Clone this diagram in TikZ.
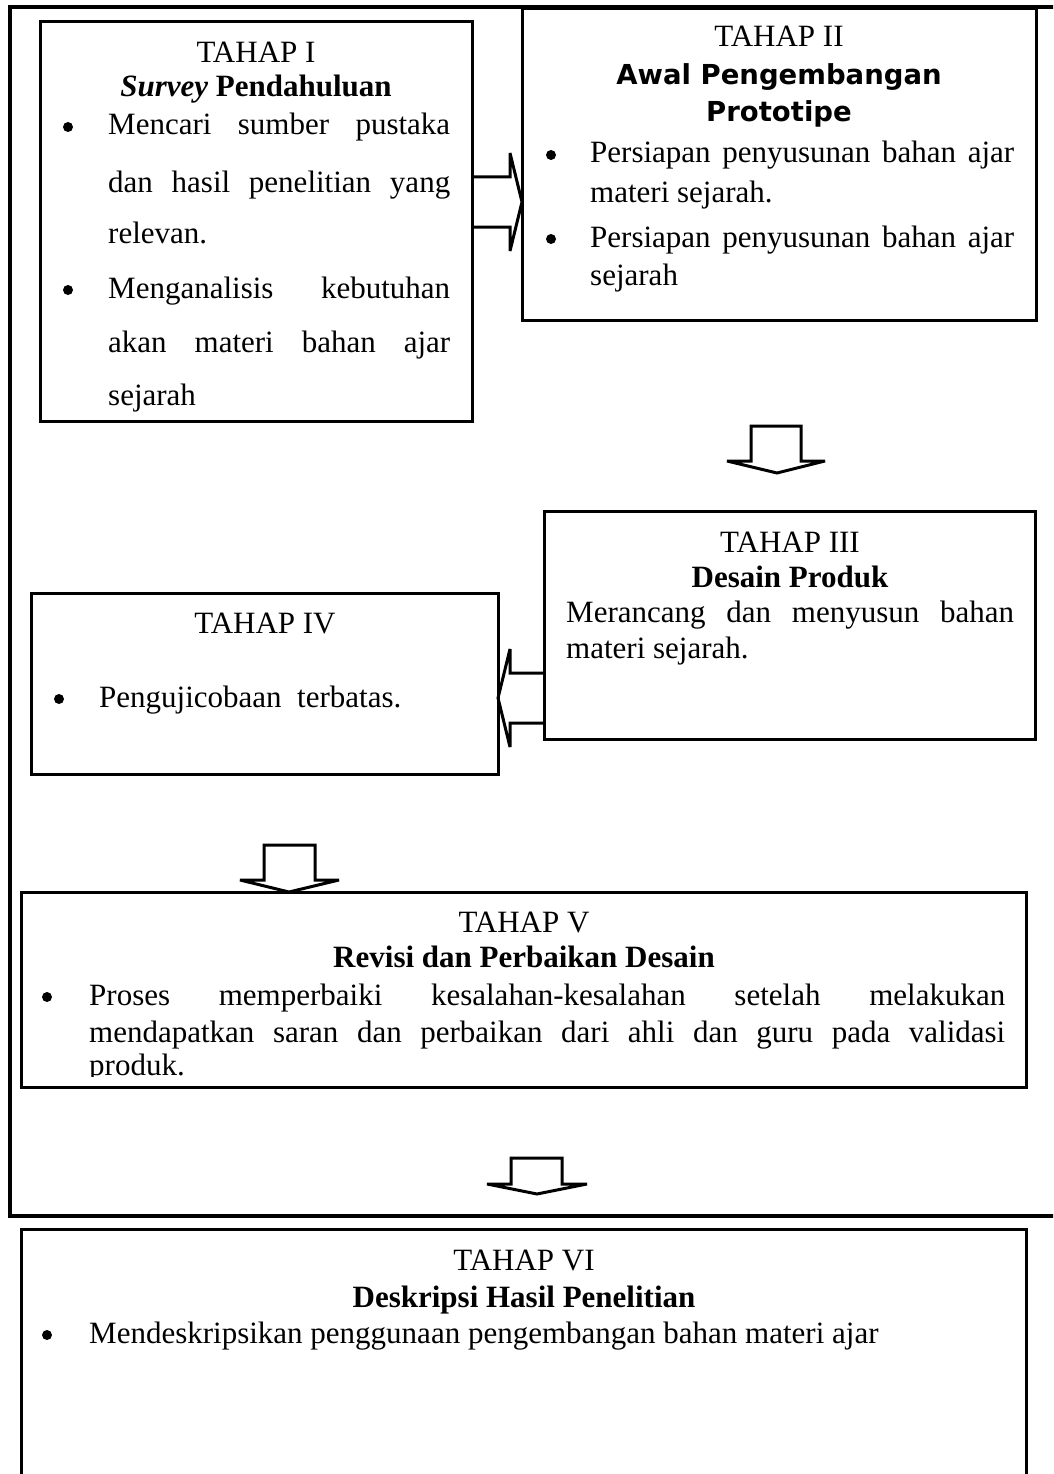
\documentclass[tikz,border=0pt]{standalone}
\usepackage{fontspec}
\setmainfont{Liberation Serif}
\newfontfamily\hsans{DejaVu Sans}
\usetikzlibrary{calc}
\newcommand\bodyfont{\fontsize{31}{37}\selectfont}
\newcommand\headsans{\hsans\bfseries\fontsize{27.5}{33}\selectfont}
\newcommand\jl[2]{\makebox[#1][s]{#2}}
\begin{document}
\begin{tikzpicture}[x=1pt,y=-1pt,
  box/.style={draw,line width=3pt,rectangle,inner sep=0pt,outer sep=0pt,anchor=north west},
  frame/.style={line width=4pt},
  blk/.style={draw,line width=3pt,line join=miter,miter limit=5},
  bul/.style={circle,fill=black,inner sep=0pt,minimum size=10pt},
  t/.style={inner sep=0pt,anchor=base,font=\bodyfont},
  tl/.style={inner sep=0pt,anchor=base west,font=\bodyfont},
  hb/.style={inner sep=0pt,anchor=base,font=\bodyfont\bfseries},
  hs/.style={inner sep=0pt,anchor=base,font=\headsans},
]
\clip (0,0) rectangle (1053,1474);
\fill[white] (0,0) rectangle (1053,1474);

% outer frame
\draw[frame] (1060,7) -- (10,7) -- (10,1216) -- (1060,1216);

% boxes
\node[box,minimum width=432pt,minimum height=399pt] (b1) at (40,22) {};
\node[box,minimum width=514pt,minimum height=311pt] (b2) at (522,9) {};
\node[box,minimum width=491pt,minimum height=228pt] (b3) at (544,511) {};
\node[box,minimum width=467pt,minimum height=181pt] (b4) at (31,593) {};
\node[box,minimum width=1005pt,minimum height=195pt] (b5) at (21,892) {};
\node[box,minimum width=1005pt,minimum height=300pt] (b6) at (21,1229) {};

% arrow I -> II
\coordinate (a1s) at (b1.east |- 0,202);
\coordinate (a1e) at (b2.west |- 0,202);
\draw[blk] ($(a1s)+(0,-25)$) -- ($(a1e)+(-12,-25)$) -- ($(a1e)+(-12,-49)$) -- (a1e)
  -- ($(a1e)+(-12,49)$) -- ($(a1e)+(-12,25)$) -- ($(a1s)+(0,25)$);

% arrow II -> III
\coordinate (d1) at (777,473);
\draw[blk] (d1) -- ++(-50,-12) -- ++(24,0) -- ++(0,-35) -- ++(50,0) -- ++(0,35) -- ++(24,0) -- cycle;

% arrow III -> IV
\coordinate (a3s) at (b3.west |- 0,698);
\coordinate (a3e) at (b4.east |- 0,698);
\draw[blk] ($(a3s)+(0,-25)$) -- ($(a3e)+(12,-25)$) -- ($(a3e)+(12,-49)$) -- (a3e)
  -- ($(a3e)+(12,49)$) -- ($(a3e)+(12,25)$) -- ($(a3s)+(0,25)$);

% arrow IV -> V
\coordinate (d2) at (b5.north -| 289,0);
\draw[blk] (d2) -- ++(-49,-12) -- ++(24,0) -- ++(0,-35) -- ++(51,0) -- ++(0,35) -- ++(24,0) -- cycle;

% arrow V -> VI
\coordinate (d3) at (537,1194);
\draw[blk] (d3) -- ++(-50,-10) -- ++(24,0) -- ++(0,-26) -- ++(51,0) -- ++(0,26) -- ++(25,0) -- cycle;

% Box I text
\node[t] (t1a) at (256,63) {TAHAP I};
\node[hb] (t1b) at (256,97) {\textit{Survey} Pendahuluan};
\node[bul] (t1c) at (68,127) {};
\node[tl] (t1d) at (108,135) {\jl{342pt}{Mencari sumber pustaka}};
\node[tl] (t1e) at (108,193) {\jl{342pt}{dan hasil penelitian yang}};
\node[tl] (t1f) at (108,243) {relevan.};
\node[bul] (t1g) at (68,290) {};
\node[tl] (t1h) at (108,298) {\jl{342pt}{Menganalisis kebutuhan}};
\node[tl] (t1i) at (108,352) {\jl{342pt}{akan materi bahan ajar}};
\node[tl] (t1j) at (108,405) {sejarah};

% Box II text
\node[t] (t2a) at (779,47) {TAHAP II};
\node[hs] (t2b) at (779,85) {Awal Pengembangan};
\node[hs] (t2c) at (779,122) {Prototipe};
\node[bul] (t2d) at (551,155) {};
\node[tl] (t2e) at (590,163) {\jl{424pt}{Persiapan penyusunan bahan ajar}};
\node[tl] (t2f) at (590,202) {materi sejarah.};
\node[bul] (t2g) at (551,239) {};
\node[tl] (t2h) at (590,247) {\jl{424pt}{Persiapan penyusunan bahan ajar}};
\node[tl] (t2i) at (590,285) {sejarah};

% Box III text
\node[t] (t3a) at (790,552) {TAHAP III};
\node[hb] (t3b) at (790,587) {Desain Produk};
\node[tl] (t3c) at (566,622) {\jl{448pt}{Merancang dan menyusun bahan}};
\node[tl] (t3d) at (566,658) {materi sejarah.};

% Box IV text
\node[t] (t4a) at (265,633) {TAHAP IV};
\node[bul] (t4b) at (59,699) {};
\node[tl] (t4c) at (99,707) {Pengujicobaan\ \ terbatas.};

% Box V text
\node[t] (t5a) at (524,932) {TAHAP V};
\node[hb] (t5b) at (524,967) {Revisi dan Perbaikan Desain};
\node[bul] (t5c) at (47,997) {};
\node[tl] (t5d) at (89,1005) {\jl{916pt}{Proses memperbaiki kesalahan-kesalahan setelah melakukan}};
\node[tl] (t5e) at (89,1042) {\jl{916pt}{mendapatkan saran dan perbaikan dari ahli dan guru pada validasi}};
\begin{scope}
\clip (23,1045) rectangle (1024,1076);
\node[tl] (t5f) at (89,1075) {produk.};
\end{scope}

% Box VI text
\node[t] (t6a) at (524,1270) {TAHAP VI};
\node[hb] (t6b) at (524,1307) {Deskripsi Hasil Penelitian};
\node[bul] (t6c) at (47,1335) {};
\node[tl] (t6d) at (89,1343) {Mendeskripsikan penggunaan pengembangan bahan materi ajar};
\end{tikzpicture}
\end{document}
